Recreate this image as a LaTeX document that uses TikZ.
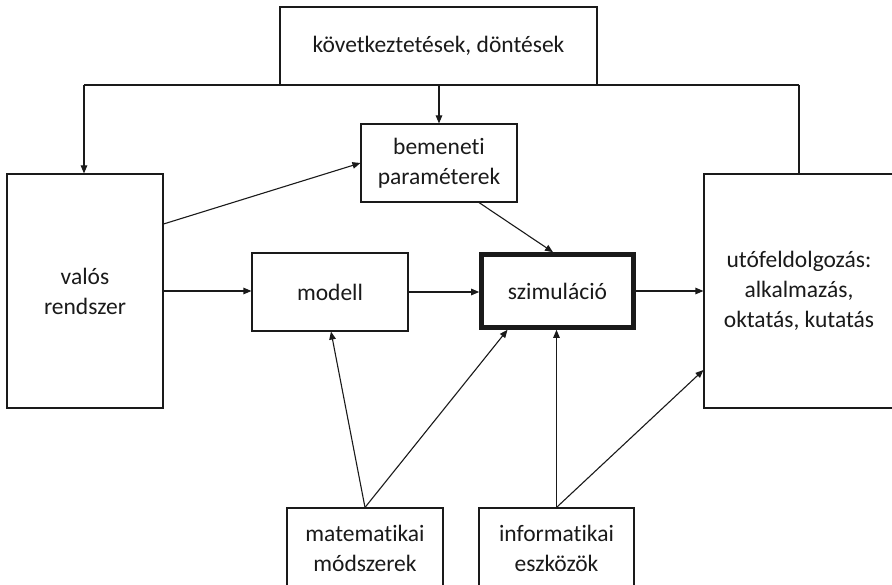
\documentclass[tikz,border=0pt]{standalone}
\usepackage{fontspec}
\setmainfont[Ligatures={NoCommon}]{Carlito}
\usetikzlibrary{arrows.meta,calc}
\definecolor{ink}{HTML}{1A1A1A}
\tikzset{
  box/.style={draw=ink, line width=1.1pt, fill=white, align=center, inner sep=0pt,
    font=\fontsize{23.5}{30}\selectfont, text=ink},
  thickbox/.style={box, line width=4.6pt},
  conn/.style={draw=ink, line width=1.1pt},
  arr/.style={conn, -{Triangle[length=8pt,width=6.5pt]}},
}
\begin{document}
\begin{tikzpicture}[x=1pt,y=-1pt]
\useasboundingbox (0,0) rectangle (892,585);
\clip (0,0) rectangle (892,585);
\fill[white] (0,0) rectangle (892,585);
% boxes
\node[box, minimum width=317pt, minimum height=78pt] (top) at (438.5,46) {következtetések, döntések};
\node[box, minimum width=156pt, minimum height=234pt] (valos) at (85,291) {valós\\rendszer};
\node[box, minimum width=156pt, minimum height=78pt] (bem) at (439,163) {bemeneti\\paraméterek};
\node[box, minimum width=156pt, minimum height=78pt] (modell) at (330,292) {modell};
\node[thickbox, minimum width=152pt, minimum height=73pt] (szim) at (557.5,291) {szimuláció};
\node[box, minimum width=190pt, minimum height=234pt] (uto) at (799,291) {utófeldolgozás:\\alkalmazás,\\oktatás, kutatás};
\node[box, minimum width=156pt, minimum height=80pt] (mat) at (365,548) {matematikai\\módszerek};
\node[box, minimum width=155pt, minimum height=80pt] (inf) at (556.5,548) {informatikai\\eszközök};
% feedback lines
\coordinate (tl) at (84,85);
\coordinate (tr) at (799,85);
\draw[conn] (tl) -- (tr);
\draw[arr] (tl) -- (tl |- valos.north);
\draw[conn] (tr) -- (tr |- uto.north);
\draw[arr] (top.south -| bem.north) -- (bem.north);
% connectors
\draw[arr] ([yshift=67pt]valos.east) -- (bem.west);
\draw[arr] ([xshift=40pt]bem.south) -- ([xshift=-4.5pt]szim.north);
\draw[arr] (valos.east) -- (modell.west |- valos.east);
\draw[arr] (modell.east) -- (szim.west |- modell.east);
\draw[arr] (szim.east) -- (uto.west |- szim.east);
\draw[arr] (mat.north) -- ([xshift=1pt]modell.south);
\draw[arr] (mat.north) -- ([xshift=-50pt]szim.south);
\draw[arr] (inf.north) -- (inf.north |- szim.south);
\draw[arr] (inf.north) -- ([yshift=-79pt]uto.west);
\end{tikzpicture}
\end{document}
